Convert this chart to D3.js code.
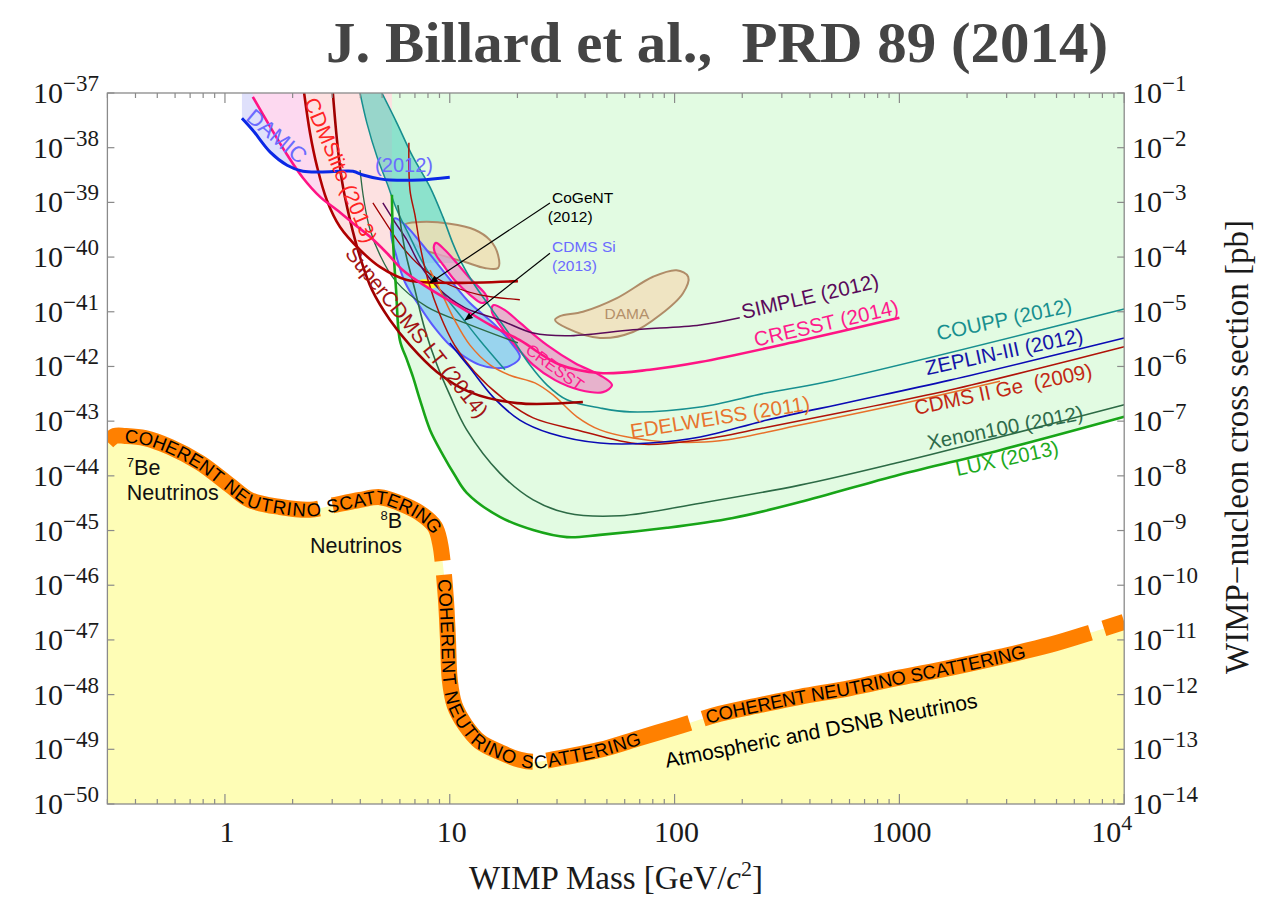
<!DOCTYPE html>
<html>
<head>
<meta charset="utf-8">
<script src="https://cdn.jsdelivr.net/npm/d3@7"></script>
<style>
  body { margin: 0; background: #fff; }
  text { white-space: pre; }
</style>
</head>
<body>
<div id="chart"></div>
<script>
const width = 1264, height = 898;

// every curve: [WIMP mass in GeV, log10(cross section in cm^2)]
const neutrinoFloor = [[0.3,-43.38],[0.324,-43.27],[0.359,-43.27],[0.441,-43.31],[0.569,-43.47],[0.774,-43.76],[1.05,-44.17],[1.29,-44.44],[1.76,-44.57],[2.39,-44.62],[2.93,-44.55],[3.99,-44.44],[4.89,-44.39],[6.0,-44.5],[7.37,-44.68],[8.59,-44.93],[9.05,-45.23],[9.33,-45.63],[9.62,-46.27],[9.82,-47.0],[10.0,-47.73],[10.5,-48.19],[11.7,-48.55],[13.6,-48.86],[16.7,-49.05],[20.5,-49.19],[23.9,-49.23],[30.9,-49.16],[46.6,-49.01],[70.2,-48.79],[106,-48.57],[159,-48.35],[240,-48.19],[361,-48.04],[603,-47.88],[1000,-47.69],[1680,-47.51],[2800,-47.31],[4680,-47.09],[7040,-46.87],[10000,-46.67]];

const damic = [[1.19,-37.46],[1.33,-37.68],[1.59,-38.08],[1.89,-38.32],[2.22,-38.43],[2.93,-38.44],[3.71,-38.43],[4.11,-38.5],[4.89,-38.57],[5.42,-38.59],[7.37,-38.59],[10.0,-38.54]];
const cresst2014 = [[1.33,-37.07],[1.59,-37.62],[1.89,-38.13],[2.22,-38.55],[2.65,-38.9],[3.15,-39.14],[3.71,-39.38],[4.42,-39.63],[5.26,-39.93],[6.19,-40.24],[7.92,-40.55],[11.1,-40.91],[15.1,-41.24],[20.5,-41.52],[30.9,-41.97],[46.6,-42.12],[77.7,-42.06],[130,-41.92],[361,-41.53],[1000,-41.11]];
const cdmslite = [[2.25,-37.0],[2.39,-37.73],[2.57,-38.35],[2.84,-38.96],[3.25,-39.45],[3.99,-39.87],[4.89,-40.18],[6.45,-40.42],[9.05,-40.47],[20.1,-40.44]];
const superCdms = [[3.02,-37.0],[3.15,-37.86],[3.31,-38.59],[3.6,-39.32],[3.99,-40.0],[4.51,-40.6],[5.42,-41.15],[6.65,-41.61],[8.77,-42.1],[12.3,-42.47],[19.9,-42.67],[39.1,-42.65]];
const coupp = [[4.99,-37.0],[5.82,-37.55],[6.86,-38.17],[8.17,-38.72],[9.33,-39.27],[10.3,-39.74],[11.3,-40.11],[12.9,-40.51],[15.1,-40.91],[18.5,-41.42],[22.7,-41.97],[27.1,-42.34],[33.2,-42.61],[46.6,-42.76],[63.3,-42.83],[130,-42.74],[258,-42.48],[476,-42.28],[10000,-40.95]];
const coupp2 = [[3.99,-37.0],[4.28,-37.55],[4.75,-38.17],[5.26,-38.65],[5.82,-39.14],[6.65,-39.63],[7.6,-40.11],[9.05,-40.6],[11.1,-41.06],[13.6,-41.52],[17.6,-42.06]];
const simple = [[5.04,-39.01],[5.7,-39.36],[6.45,-39.69],[7.37,-40.14],[9.05,-40.6],[11.7,-40.93],[16.7,-41.15],[23.5,-41.39],[33.2,-41.44],[65.3,-41.33],[130,-41.24],[195,-41.11]];
const xenon100 = [[5.88,-39.05],[6.32,-39.87],[7.0,-40.6],[7.76,-41.33],[8.77,-41.97],[10.0,-42.52],[11.9,-43.16],[16.7,-43.95],[23.5,-44.44],[33.2,-44.68],[57.2,-44.73],[130,-44.5],[361,-44.17],[1000,-43.75],[2800,-43.29],[10000,-42.7]];
const xenon10 = [[3.99,-38.41],[4.15,-38.96],[4.42,-39.5],[4.89,-39.96],[5.7,-40.42],[7.92,-40.91],[12.3,-41.24],[20.1,-41.57]];
const lux = [[5.53,-38.86],[5.59,-39.69],[5.77,-40.6],[6.0,-41.52],[6.45,-41.88],[6.86,-42.19],[7.37,-42.61],[8.17,-43.16],[9.33,-43.62],[10.5,-43.98],[11.9,-44.31],[16.7,-44.75],[23.5,-44.99],[33.2,-45.12],[46.6,-45.08],[92.5,-44.95],[182,-44.77],[361,-44.48],[1000,-43.98],[2800,-43.53],[10000,-42.92]];
const zeplin = [[10.0,-41.57],[12.3,-42.03],[15.6,-42.56],[20.5,-42.98],[27.9,-43.22],[46.6,-43.4],[77.7,-43.4],[130,-43.29],[258,-42.98],[603,-42.65],[1680,-42.25],[10000,-41.48]];
const cdmsGe = [[6.58,-37.91],[6.65,-38.77],[7.0,-39.23],[7.37,-39.78],[8.0,-40.42],[9.05,-41.06],[10.5,-41.61],[12.9,-42.1],[17.2,-42.58],[23.5,-42.94],[36.8,-43.16],[70.2,-43.42],[130,-43.34],[258,-43.11],[603,-42.81],[1680,-42.43],[10000,-41.64]];
const edelweiss = [[8.17,-40.24],[9.05,-40.6],[10.5,-41.15],[12.3,-41.61],[15.1,-41.97],[18.5,-42.16],[23.9,-42.3],[28.8,-42.52],[36.8,-42.92],[46.6,-43.16],[65.3,-43.31],[92.5,-43.38],[159,-43.36],[361,-43.07],[1000,-42.69],[2800,-42.27]];
const cdmsLowE = [[4.55,-39.01],[5.26,-39.41],[6.19,-39.83],[7.76,-40.24],[10.0,-40.51],[13.6,-40.69],[20.5,-40.78]];

// signal regions (closed contours)
const cdmsSi = [[5.7,-39.29],[5.47,-39.54],[5.77,-39.96],[6.32,-40.46],[7.37,-40.91],[8.59,-41.3],[10.0,-41.61],[11.7,-41.83],[13.6,-41.97],[15.9,-42.03],[18.5,-41.99],[20.5,-41.83],[19.1,-41.61],[15.9,-41.24],[12.3,-40.84],[10.3,-40.47],[8.77,-40.11],[7.37,-39.72],[6.32,-39.41]];
const cresstSmall = [[8.68,-39.74],[9.52,-39.87],[10.9,-40.14],[12.5,-40.42],[14.3,-40.66],[14.7,-40.78],[13.9,-40.84],[12.3,-40.69],[10.5,-40.42],[9.33,-40.14],[8.68,-39.96],[8.49,-39.82]];
const cresstBig = [[15.6,-40.88],[17.6,-40.97],[20.5,-41.2],[27.1,-41.61],[36.1,-41.94],[46.6,-42.16],[52.7,-42.34],[48.0,-42.47],[37.9,-42.43],[29.4,-42.25],[23.5,-41.97],[19.5,-41.61],[16.7,-41.24],[15.4,-41.0]];
const damaSmall = [[6.32,-39.41],[7.37,-39.36],[10.0,-39.39],[12.9,-39.5],[15.1,-39.69],[16.4,-39.96],[16.4,-40.2],[14.3,-40.2],[11.7,-40.09],[9.05,-39.96],[7.37,-39.83],[6.52,-39.63]];
const damaBig = [[29.4,-41.15],[33.2,-41.3],[46.6,-41.48],[65.3,-41.37],[86.1,-41.06],[109,-40.66],[115,-40.36],[102,-40.24],[80.2,-40.36],[55.4,-40.75],[39.1,-41.0],[30.9,-41.08]];
const cogent = [[7.37,-40.42],[8.17,-40.42],[9.05,-40.51],[8.33,-40.57],[7.52,-40.51]];

const xMajor = [1, 10, 100, 1000, 10000];
const xMajorLabels = ["1", "10", "100", "1000", "10^4"];
const yExponents = d3.range(-50, -36);   // cm^2
const pbOffset = 36;                      // 1 pb = 1e-36 cm^2

const svg = d3.select("#chart").append("svg")
  .attr("width", width).attr("height", height);

const x = d3.scaleLog().domain([0.3, 1e4]).range([107.4, 1124.2]);
const y = d3.scaleLog().domain([1e-50, 1e-37]).range([804, 93]);
const X = d => x(d[0]);
const Y = d => y(Math.pow(10, d[1]));
const [x0, x1] = x.range(), [y1, y0] = y.range();
const sans = "Liberation Sans, Arial, sans-serif";
const serif = "Liberation Serif, Times New Roman, serif";

const line = d3.line().x(X).y(Y).curve(d3.curveCatmullRom.alpha(0.5));
const closed = d3.line().x(X).y(Y).curve(d3.curveCatmullRomClosed.alpha(0.5));

svg.append("clipPath").attr("id", "plotClip")
  .append("rect").attr("x", x0).attr("y", y0).attr("width", x1 - x0).attr("height", y1 - y0);

const defs = svg.append("defs");
defs.append("marker").attr("id", "arrow").attr("viewBox", "0 0 10 10")
  .attr("refX", 9).attr("refY", 5).attr("markerWidth", 7).attr("markerHeight", 7)
  .attr("orient", "auto-start-reverse")
  .append("path").attr("d", "M0,1L10,5L0,9Z").attr("fill", "#000");

const g = svg.append("g").attr("clip-path", "url(#plotClip)");

// excluded region above a limit curve
function above(pts) {
  const a = pts[0], b = pts[pts.length - 1];
  return line(pts) + `L${X(b)},${y0 - 5}L${X(a)},${y0 - 5}Z`;
}

g.append("path").attr("d", above(damic)).attr("fill", "#dfe0fb");
g.append("path").attr("d", above(cresst2014)).attr("fill", "#fdd9f0");
g.append("path").attr("d", above(cdmslite)).attr("fill", "#fde1e1");
g.append("path").attr("d", above(lux)).attr("fill", "#e2fbe2");

// COUPP band
const bandA = coupp.filter(d => d[0] <= 11.3);
const bandB = coupp2.filter(d => d[0] <= 7.6).reverse();
g.append("path")
  .attr("d", line(bandA) + "L" + line(bandB).slice(1) + "Z")
  .attr("fill", "rgba(70,205,185,0.55)");

// neutrino background
g.append("path")
  .attr("d", line(neutrinoFloor) + `L${x1},${y1 + 5}L${x0},${y1 + 5}Z`)
  .attr("fill", "#fefdb6");

// signal regions
g.append("path").attr("d", closed(damaSmall)).attr("fill", "rgba(238,222,180,0.85)")
  .attr("stroke", "#b08c68").attr("stroke-width", 2);
g.append("path").attr("d", closed(damaBig)).attr("fill", "#efe4c2")
  .attr("stroke", "#b08c68").attr("stroke-width", 2);
g.append("path").attr("d", closed(cdmsSi)).attr("fill", "rgba(140,205,240,0.85)")
  .attr("stroke", "#5a5aff").attr("stroke-width", 2);
g.append("path").attr("d", closed(cresstSmall)).attr("fill", "rgba(232,160,200,0.8)")
  .attr("stroke", "#ff1493").attr("stroke-width", 2.2);
g.append("path").attr("d", closed(cresstBig)).attr("fill", "rgba(232,165,200,0.85)")
  .attr("stroke", "#ff1493").attr("stroke-width", 2.2);
g.append("path").attr("d", closed(cogent)).attr("fill", "#ffff20");

// limit curves
const curves = [
  [coupp2, "#178f8f", 1.5], [coupp, "#178f8f", 1.6],
  [xenon10, "#2c6a45", 1.3], [cdmsLowE, "#a00000", 1.3],
  [simple, "#5a0a5a", 1.5], [edelweiss, "#e8702a", 1.5],
  [cdmsGe, "#b01208", 1.5], [zeplin, "#0a0ab4", 1.6],
  [xenon100, "#2c6a45", 1.6], [lux, "#18a518", 2.6],
  [superCdms, "#a00000", 2.6], [cdmslite, "#b00000", 2.6],
  [cresst2014, "#ff1484", 2.6], [damic, "#0a28e6", 3]
];
curves.forEach(([pts, col, w]) => {
  g.append("path").attr("d", line(pts)).attr("fill", "none")
    .attr("stroke", col).attr("stroke-width", w);
});

// neutrino floor band with gaps and text
const floor = g.append("path").attr("id", "floorPath").attr("d", line(neutrinoFloor))
  .attr("fill", "none").attr("stroke", "#ff8000").attr("stroke-width", 16);
const floorNode = floor.node();
const floorLen = floorNode.getTotalLength();
function lengthAt(d) {
  const px = X(d), py = Y(d);
  let best = 0, bd = Infinity;
  for (let s = 0; s <= floorLen; s += 1) {
    const p = floorNode.getPointAtLength(s);
    const dd = (p.x - px) ** 2 + (p.y - py) ** 2;
    if (dd < bd) { bd = dd; best = s; }
  }
  return best;
}
const gaps = [[2.81,-44.55],[9.43,-45.68],[25.2,-49.23],[125,-48.5],[7570,-46.82]].map(lengthAt).sort((a, b) => a - b);
const dash = [];
let prev = 0;
gaps.forEach(L => { dash.push(L - 7 - prev, 14); prev = L + 7; });
dash.push(floorLen - prev + 5, 1000);
floor.attr("stroke-dasharray", dash.join(","));

// text written word by word along the band
const floorLabels = [
  [[0.36,-43.27],[8.9,-45.0]],
  [[9.5,-45.87],[70,-48.8]],
  [[137,-48.43],[3620,-47.22]]
];
const floorText = "COHERENT NEUTRINO SCATTERING";
const probe = svg.append("text").attr("font-family", sans).attr("font-size", 18.5).text(floorText);
const advances = [...floorText].map((ch, i) => probe.node().getSubStringLength(i, 1));
probe.remove();
const words = [];
floorText.split(" ").reduce((i, w) => { words.push([w, i]); return i + w.length + 1; }, 0);
floorLabels.forEach(([a, b]) => {
  const s = lengthAt(a), e = lengthAt(b);
  const extra = (e - s - d3.sum(advances)) / (floorText.length - 1);
  words.forEach(([w, i]) => {
    const off = s + d3.sum(advances.slice(0, i)) + extra * i;
    const len = d3.sum(advances.slice(i, i + w.length)) + extra * (w.length - 1);
    svg.append("text").attr("font-family", sans).attr("font-size", 18.5)
      .attr("fill", "#000").attr("dy", "0.36em")
      .append("textPath").attr("href", "#floorPath").attr("startOffset", off)
      .attr("textLength", len).attr("lengthAdjust", "spacing").text(w);
  });
});

// frame and ticks
const axisColor = "#8a8a8a";
svg.append("rect").attr("x", x0).attr("y", y0).attr("width", x1 - x0).attr("height", y1 - y0)
  .attr("fill", "none").attr("stroke", axisColor).attr("stroke-width", 1.3);

const minor = [];
for (let k = -1; k <= 3; k++) for (let m = 2; m <= 9; m++) {
  const v = m * Math.pow(10, k);
  if (v >= 0.3 && v <= 1e4) minor.push(v);
}
const tk = svg.append("g").attr("stroke", axisColor).attr("stroke-width", 1.2);
minor.forEach(v => {
  tk.append("line").attr("x1", x(v)).attr("x2", x(v)).attr("y1", y1).attr("y2", y1 - 5);
  tk.append("line").attr("x1", x(v)).attr("x2", x(v)).attr("y1", y0).attr("y2", y0 + 5);
});
xMajor.forEach(v => {
  tk.append("line").attr("x1", x(v)).attr("x2", x(v)).attr("y1", y1).attr("y2", y1 - 10);
  tk.append("line").attr("x1", x(v)).attr("x2", x(v)).attr("y1", y0).attr("y2", y0 + 10);
});
yExponents.forEach(e => {
  const yy = y(Math.pow(10, e));
  tk.append("line").attr("x1", x0).attr("x2", x0 + 7).attr("y1", yy).attr("y2", yy);
  tk.append("line").attr("x1", x1).attr("x2", x1 - 7).attr("y1", yy).attr("y2", yy);
});

function powerLabel(sel, base, exp, bigSize, supSize) {
  sel.append("tspan").attr("font-size", bigSize).text(base);
  sel.append("tspan").attr("font-size", supSize).attr("dy", -12).text(exp);
}
yExponents.forEach(e => {
  const yy = y(Math.pow(10, e));
  const l = svg.append("text").attr("x", 99).attr("y", yy + 10)
    .attr("text-anchor", "end").attr("font-family", serif).attr("fill", "#1a1a1a");
  powerLabel(l, "10", "\u2212" + (-e), 30, 23);
  const r = svg.append("text").attr("x", 1132).attr("y", yy + 10)
    .attr("font-family", serif).attr("fill", "#1a1a1a");
  powerLabel(r, "10", "\u2212" + (-(e + pbOffset)), 30, 23);
});
xMajor.forEach((v, i) => {
  const lab = xMajorLabels[i];
  const t = svg.append("text").attr("y", 842).attr("font-family", serif).attr("fill", "#1a1a1a");
  if (lab.includes("^")) {
    t.attr("x", x(v) + 8).attr("text-anchor", "end");
    powerLabel(t, "10", lab.split("^")[1], 30, 22);
  } else {
    t.attr("x", x(v) + 2).attr("text-anchor", "middle").attr("font-size", 30).text(lab);
  }
});

// axis titles
const xt = svg.append("text").attr("x", 616).attr("y", 889).attr("text-anchor", "middle")
  .attr("font-family", serif).attr("font-size", 33).attr("fill", "#1a1a1a");
xt.append("tspan").text("WIMP Mass [GeV/");
xt.append("tspan").attr("font-style", "italic").text("c");
xt.append("tspan").attr("font-size", 22).attr("dy", -13).text("2");
xt.append("tspan").attr("dy", 13).text("]");

svg.append("text").attr("transform", "translate(1248,447) rotate(-90)")
  .attr("text-anchor", "middle").attr("font-family", serif).attr("font-size", 33)
  .attr("fill", "#1a1a1a").text("WIMP\u2212nucleon cross section [pb]");

// title
svg.append("text").attr("x", 326).attr("y", 62)
  .attr("font-family", serif).attr("font-weight", "bold").attr("font-size", 56)
  .attr("fill", "#444").attr("textLength", 782).attr("lengthAdjust", "spacingAndGlyphs")
  .text("J. Billard et al.,  PRD 89 (2014)");

// curve and region labels
const labelColor = {
  damic: "#6b6bff", cdmslite: "#ff2424", supercdms: "#a31414", simple: "#5a0a5a",
  cresst: "#ff1a8c", coupp: "#178f8f", zeplin: "#1414a8", cdmsge: "#c22814",
  edelweiss: "#e8742e", xenon: "#2e6b4a", lux: "#1eaa1e", dama: "#b4906a", black: "#000"
};
const labels = [
  ["DAMIC", 1.70, -37.79, 40, "damic", 22],
  ["(2012)", 6.26, -38.32, 0, "damic", 20],
  ["CDMSlite (2013)", 3.28, -38.41, 67, "cdmslite", 21],
  ["SuperCDMS LT (2014)", 7.15, -41.37, 51, "supercdms", 21],
  ["SIMPLE (2012)", 400, -40.71, -13, "simple", 20.5],
  ["CRESST (2014)", 472, -41.2, -13, "cresst", 20.5],
  ["COUPP (2012)", 2920, -41.13, -12, "coupp", 20.5],
  ["ZEPLIN-III (2012)", 2920, -41.72, -12, "zeplin", 20.5],
  ["CDMS II Ge  (2009)", 2890, -42.41, -12, "cdmsge", 20.5],
  ["EDELWEISS (2011)", 159, -42.92, -9, "edelweiss", 20.5],
  ["Xenon100 (2012)", 2950, -43.11, -11, "xenon", 20.5],
  ["LUX (2013)", 3010, -43.67, -12, "lux", 20.5],
  ["CRESST", 29.4, -42.01, 36, "cresst", 16.5],
  ["DAMA", 61.4, -41.04, 0, "dama", 15.5],
  ["Atmospheric and DSNB Neutrinos", 448, -48.65, -11, "black", 21]
];
labels.forEach(([t, m, e, r, c, s]) => {
  svg.append("text")
    .attr("transform", `translate(${x(m)},${y(Math.pow(10, e))}) rotate(${r})`)
    .attr("text-anchor", "middle").attr("dominant-baseline", "central")
    .attr("font-family", sans).attr("font-size", s)
    .attr("fill", labelColor[c]).text(t);
});

// left-aligned annotations
const notes = [
  ["CoGeNT", 28.5, -39.01, "black"], ["(2012)", 27.3, -39.36, "black"],
  ["CDMS Si", 28.5, -39.91, "damic"], ["(2013)", 28.5, -40.26, "damic"]
];
notes.forEach(([t, m, e, c]) => {
  svg.append("text").attr("x", x(m)).attr("y", y(Math.pow(10, e)))
    .attr("font-family", sans).attr("font-size", 15.5)
    .attr("fill", labelColor[c]).text(t);
});
const arrows = [[[27.9, -39.01], [8.17, -40.47]], [[27.9, -39.93], [11.7, -41.15]]];
arrows.forEach(([a, b]) => {
  svg.append("line").attr("x1", X(a)).attr("y1", Y(a)).attr("x2", X(b)).attr("y2", Y(b))
    .attr("stroke", "#000").attr("stroke-width", 1.2).attr("marker-end", "url(#arrow)");
});

// solar neutrino labels
const nuLabels = [
  ["7", "Be", 0.366, -43.98, "start"], ["", "Neutrinos", 0.366, -44.44, "start"],
  ["8", "B", 6.13, -44.95, "end"], ["", "Neutrinos", 6.13, -45.41, "end"]
];
nuLabels.forEach(([sup, t, m, e, anchor]) => {
  const el = svg.append("text").attr("x", x(m)).attr("y", y(Math.pow(10, e)))
    .attr("text-anchor", anchor).attr("font-family", sans)
    .attr("font-size", 21.5).attr("fill", "#111");
  if (sup) {
    el.append("tspan").attr("font-size", 13).attr("dy", -8).text(sup);
    el.append("tspan").attr("dy", 8).text(t);
  } else el.text(t);
});
</script>
</body>
</html>
